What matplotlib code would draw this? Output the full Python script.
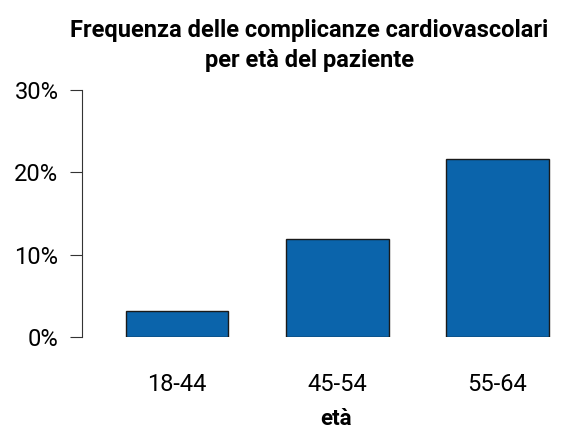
import matplotlib
matplotlib.use('Agg')
import matplotlib.pyplot as plt
from matplotlib.ticker import PercentFormatter

categories = ['18-44', '45-54', '55-64']
values = [3.1, 11.9, 21.6]
y_ticks = [0, 10, 20, 30]

plt.rcParams['font.family'] = ['Roboto', 'DejaVu Sans']

fig = plt.figure(figsize=(5.67, 4.34), dpi=100)
ax = fig.add_axes([0.1446, 0.2235, 0.843, 0.569])

x = list(range(len(categories)))
ax.bar(x, values, width=0.64, color='#0b64ab', edgecolor='#1a1a1a', linewidth=1)

ax.set_xlim(-0.594, 2.39)
ax.set_ylim(0, 30)
ax.set_yticks(y_ticks)
ax.yaxis.set_major_formatter(PercentFormatter(decimals=0))
ax.set_xticks(x)
ax.set_xticklabels(categories)

for s in ['top', 'right', 'bottom']:
    ax.spines[s].set_visible(False)
ax.spines['left'].set_color('#333333')
ax.tick_params(axis='y', length=9, color='#333333', labelsize=17, pad=8)
ax.tick_params(axis='x', length=0, labelsize=17, pad=26)

fig.text(0.593, 0.035, 'età', fontsize=16, fontweight='bold', ha='center', va='center')
fig.suptitle('Frequenza delle complicanze cardiovascolari\nper età del paziente',
             x=0.545, y=0.957, fontsize=17, fontweight='bold', linespacing=1.4)

fig.savefig('out.png', dpi=100)
